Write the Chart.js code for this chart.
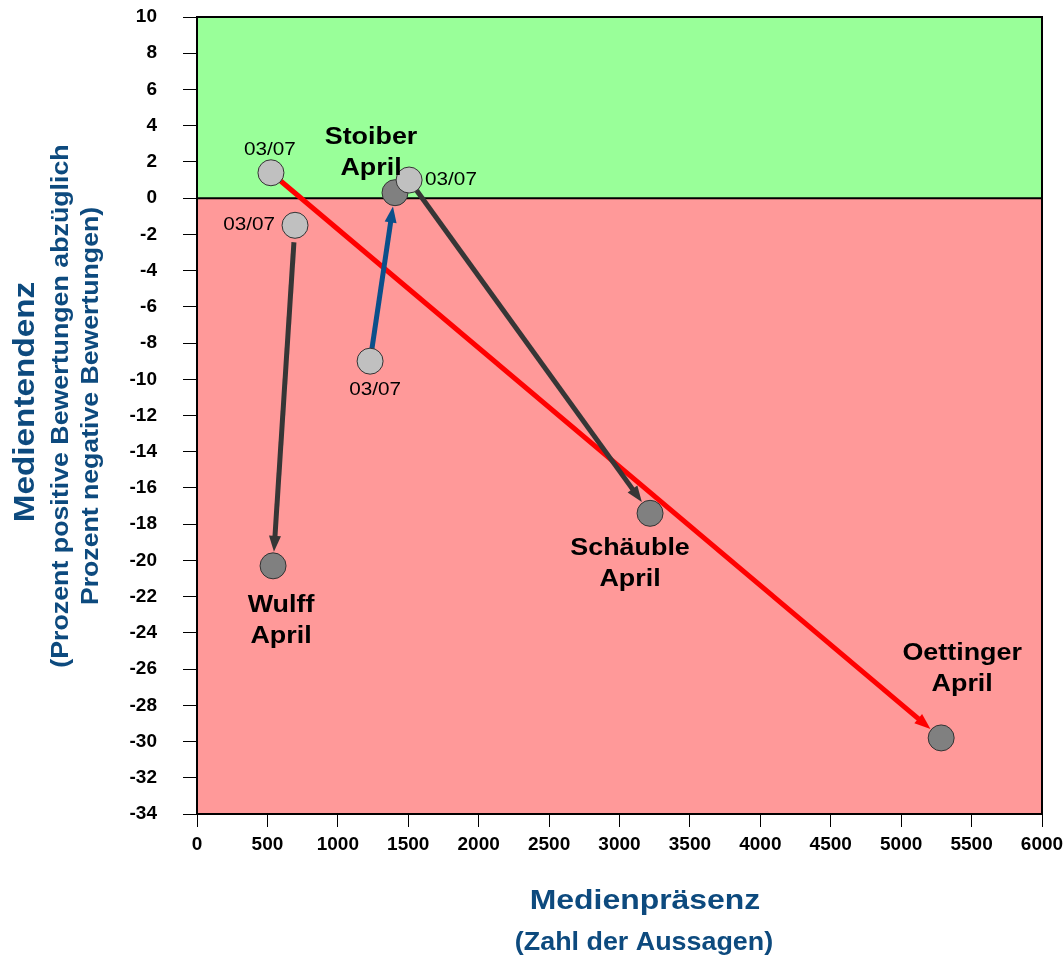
<!DOCTYPE html>
<html>
<head>
<meta charset="utf-8">
<script src="https://cdn.jsdelivr.net/npm/chart.js@4"></script>
<style>
  html, body { margin: 0; padding: 0; background: #fff; }
  #wrap { width: 1063px; height: 956px; }
</style>
</head>
<body>
<div id="wrap"><canvas id="pressChart" width="1063" height="956"></canvas></div>
<script>
// Politicians and their values in March (03/07) and April
const politicians = ['Oettinger', 'Wulff', 'Stoiber', 'Schäuble'];
const presenceMarch = [525, 696, 1229, 1506];
const tendencyMarch = [1.4, -1.5, -9.0, 1.0];
const presenceApril = [5284, 540, 1406, 3217];
const tendencyApril = [-29.8, -20.3, 0.3, -17.4];
const marchLabel = '03/07';
const aprilLabel = 'April';

// x ticks 0..6000 step 500, y ticks 10..-34 step 2
const xMin = 0, xMax = 6000, xStep = 500;
const yMin = -34, yMax = 10, yStep = 2;

// Styles (not data)
const arrowColors = ['#ff0000', '#363636', '#0b4f8a', '#363636'];
const titleBlue = '#0d4a7e';
const FONT = '"Liberation Sans", Arial, sans-serif';
// where the text goes relative to the point, in pixels
const marchLabelPos = [[-1, -23, 'center'], [-20, 0, 'right'], [5, 29, 'center'], [16, 0, 'left']];
const aprilLabelPos = [[21, -85, 'center'], [8, 40, 'center'], [-24, -55, 'center'], [-20, 35, 'center']];

const marchPoints = presenceMarch.map((x, i) => ({ x: x, y: tendencyMarch[i] }));
const aprilPoints = presenceApril.map((x, i) => ({ x: x, y: tendencyApril[i] }));

// text slightly widened like the original rendering
function wideText(ctx, text, x, y, sx, rot) {
  ctx.save();
  ctx.translate(x, y);
  if (rot) ctx.rotate(rot);
  ctx.scale(sx, 1);
  ctx.fillText(text, 0, 0);
  ctx.restore();
}

// Green / red zones and the zero line
const zonePlugin = {
  id: 'zones',
  beforeDatasetsDraw(chart) {
    const { ctx, chartArea: a, scales: { y } } = chart;
    const y0 = y.getPixelForValue(0);
    ctx.save();
    ctx.fillStyle = '#99ff99';
    ctx.fillRect(a.left, a.top, a.right - a.left, y0 - a.top);
    ctx.fillStyle = '#ff9999';
    ctx.fillRect(a.left, y0, a.right - a.left, a.bottom - y0);
    ctx.strokeStyle = '#000';
    ctx.lineWidth = 2;
    ctx.beginPath();
    ctx.moveTo(a.left, y0);
    ctx.lineTo(a.right, y0);
    ctx.stroke();
    ctx.strokeRect(a.left, a.top, a.right - a.left, a.bottom - a.top);
    ctx.restore();
  }
};

// Arrows from March to April
const arrowPlugin = {
  id: 'arrows',
  beforeDatasetsDraw(chart) {
    const { ctx, scales: { x, y } } = chart;
    const r = 14;
    ctx.save();
    politicians.forEach((p, i) => {
      const x1 = x.getPixelForValue(presenceMarch[i]), y1 = y.getPixelForValue(tendencyMarch[i]);
      const x2 = x.getPixelForValue(presenceApril[i]), y2 = y.getPixelForValue(tendencyApril[i]);
      const len = Math.hypot(x2 - x1, y2 - y1);
      const ux = (x2 - x1) / len, uy = (y2 - y1) / len;
      const gap = i === 1 ? 17 : r - 2;
      const sx = x1 + ux * gap, sy = y1 + uy * gap;
      const ex = x2 - ux * r, ey = y2 - uy * r;
      const head = 16, half = 6;
      const bx = ex - ux * head, by = ey - uy * head;
      ctx.strokeStyle = arrowColors[i];
      ctx.fillStyle = arrowColors[i];
      ctx.lineWidth = 5;
      ctx.beginPath();
      ctx.moveTo(sx, sy);
      ctx.lineTo(bx + ux * 2, by + uy * 2);
      ctx.stroke();
      ctx.beginPath();
      ctx.moveTo(ex, ey);
      ctx.lineTo(bx - uy * half, by + ux * half);
      ctx.lineTo(bx + uy * half, by - ux * half);
      ctx.closePath();
      ctx.fill();
    });
    ctx.restore();
  }
};

// Point labels and axis titles
const textPlugin = {
  id: 'texts',
  afterDatasetsDraw(chart) {
    const { ctx, scales: { x, y } } = chart;
    ctx.save();
    ctx.fillStyle = '#000';
    ctx.textBaseline = 'middle';
    politicians.forEach((p, i) => {
      const mx = x.getPixelForValue(presenceMarch[i]), my = y.getPixelForValue(tendencyMarch[i]);
      const [ox, oy, al] = marchLabelPos[i];
      ctx.font = '18px ' + FONT;
      ctx.textAlign = al;
      wideText(ctx, marchLabel, mx + ox, my + oy, 1.15);
      const ax = x.getPixelForValue(presenceApril[i]), ay = y.getPixelForValue(tendencyApril[i]);
      const [px, py, pal] = aprilLabelPos[i];
      ctx.font = 'bold 24px ' + FONT;
      ctx.textAlign = pal;
      wideText(ctx, p, ax + px, ay + py, 1.12);
      wideText(ctx, aprilLabel, ax + px, ay + py + 31, 1.12);
    });
    // x title
    ctx.fillStyle = titleBlue;
    ctx.textAlign = 'center';
    ctx.font = 'bold 28px ' + FONT;
    wideText(ctx, 'Medienpräsenz', 645, 901, 1.14);
    ctx.font = 'bold 25px ' + FONT;
    wideText(ctx, '(Zahl der Aussagen)', 644, 943, 1.075);
    // y title
    const rot = -Math.PI / 2;
    ctx.font = 'bold 30px ' + FONT;
    wideText(ctx, 'Medientendenz', 26, 402, 1.11, rot);
    ctx.font = 'bold 24px ' + FONT;
    wideText(ctx, '(Prozent positive Bewertungen abzüglich', 61, 406, 1.115, rot);
    wideText(ctx, 'Prozent negative Bewertungen)', 91, 406, 1.11, rot);
    ctx.restore();
  }
};

const ctx = document.getElementById('pressChart').getContext('2d');
const pressChart = new Chart(ctx, {
  type: 'scatter',
  data: {
    datasets: [
      {
        label: marchLabel,
        data: marchPoints,
        backgroundColor: '#c0c0c0',
        borderColor: '#333333',
        borderWidth: 1,
        pointRadius: 13,
        pointHoverRadius: 13
      },
      {
        label: aprilLabel,
        data: aprilPoints,
        backgroundColor: '#808080',
        borderColor: '#333333',
        borderWidth: 1,
        pointRadius: 13,
        pointHoverRadius: 13
      }
    ]
  },
  options: {
    responsive: false,
    animation: false,
    layout: { padding: { top: 17, right: 21, left: 0, bottom: 0 } },
    plugins: {
      legend: { display: false },
      tooltip: { enabled: false }
    },
    scales: {
      x: {
        type: 'linear',
        min: xMin, max: xMax,
        ticks: {
          stepSize: xStep, color: '#000', padding: 6, maxRotation: 0,
          font: { family: FONT, size: 19, weight: 'bold' },
          callback: (v) => String(v)
        },
        grid: { drawOnChartArea: false, tickLength: 13, color: '#000' },
        border: { color: '#000', width: 2 },
        afterFit(scale) { scale.height = 142; scale.paddingLeft = 0; scale.paddingRight = 0; }
      },
      y: {
        type: 'linear',
        min: yMin, max: yMax,
        ticks: {
          stepSize: yStep, color: '#000', padding: 26,
          font: { family: FONT, size: 19, weight: 'bold' },
          callback: (v) => String(v)
        },
        grid: { drawOnChartArea: false, tickLength: 14, color: '#000' },
        border: { color: '#000', width: 2 },
        afterFit(scale) { scale.width = 197; scale.paddingTop = 0; scale.paddingBottom = 0; }
      }
    }
  },
  plugins: [zonePlugin, arrowPlugin, textPlugin]
});
</script>
</body>
</html>
